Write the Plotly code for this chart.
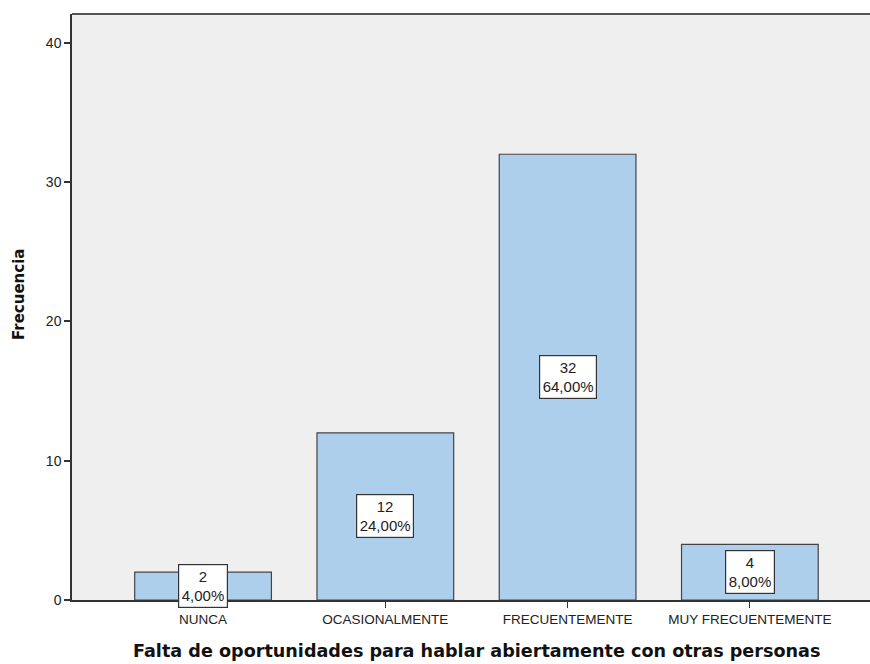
import plotly.graph_objects as go

categories = ["NUNCA", "OCASIONALMENTE", "FRECUENTEMENTE", "MUY FRECUENTEMENTE"]
counts = [2, 12, 32, 4]
percents = ["4,00%", "24,00%", "64,00%", "8,00%"]
y_ticks = [0, 10, 20, 30, 40]

FONT = "Liberation Sans, Arial, sans-serif"
TFONT = "DejaVu Sans, Verdana, sans-serif"

fig = go.Figure()
fig.add_trace(go.Bar(
    x=categories, y=counts,
    marker=dict(color="#ADCFEC", line=dict(color="#444", width=1.2)),
    width=0.75, hoverinfo="skip",
))

for c, v, p in zip(categories, counts, percents):
    fig.add_annotation(
        x=c, y=v / 2, xref="x", yref="y",
        text=f"{v}<br>{p}", showarrow=False,
        font=dict(family=FONT, size=15, color="#222"),
        bgcolor="white", bordercolor="#333", borderwidth=1.2, borderpad=2.5,
    )

fig.add_annotation(
    text="<b>Falta de oportunidades para hablar abiertamente con otras personas</b>",
    showarrow=False, xref="paper", yref="paper",
    x=(476 - 72) / 798, y=(600 - 651) / 586, xanchor="center", yanchor="middle",
    font=dict(family=TFONT, size=17.6, color="#111"),
)

fig.add_annotation(
    text="<b>Frecuencia</b>", textangle=-90, showarrow=False,
    xref="paper", yref="paper", x=(19 - 72) / 798, y=(600 - 295) / 586,
    xanchor="center", yanchor="middle",
    font=dict(family=TFONT, size=15, color="#111"),
)

# top border
fig.add_shape(type="line", xref="paper", yref="paper", x0=0, x1=1, y0=1, y1=1,
              line=dict(color="#555", width=2))

fig.update_layout(
    width=870, height=664,
    margin=dict(l=72, r=0, t=14, b=64),
    paper_bgcolor="white", plot_bgcolor="#EFEFEF",
    showlegend=False,
    font=dict(family=FONT, size=12, color="#222"),
)
fig.update_xaxes(
    range=[-0.719, 3.659], showgrid=False, zeroline=False,
    showline=True, linecolor="#333", linewidth=1.5,
    ticks="outside", ticklen=6, tickcolor="#333", tickwidth=1,
    tickfont=dict(family=FONT, size=13.5, color="#222"),
)
fig.update_yaxes(
    range=[0, 42.07], tickvals=y_ticks, showgrid=False, zeroline=False,
    showline=True, linecolor="#333", linewidth=1.5,
    ticks="outside", ticklen=6, tickcolor="#333", tickwidth=1.5,
    tickfont=dict(family=FONT, size=14, color="#222"),
)

fig.write_html("out.html", config={"displayModeBar": False},
               post_script="document.body.style.margin='0';document.body.style.overflow='hidden';")
